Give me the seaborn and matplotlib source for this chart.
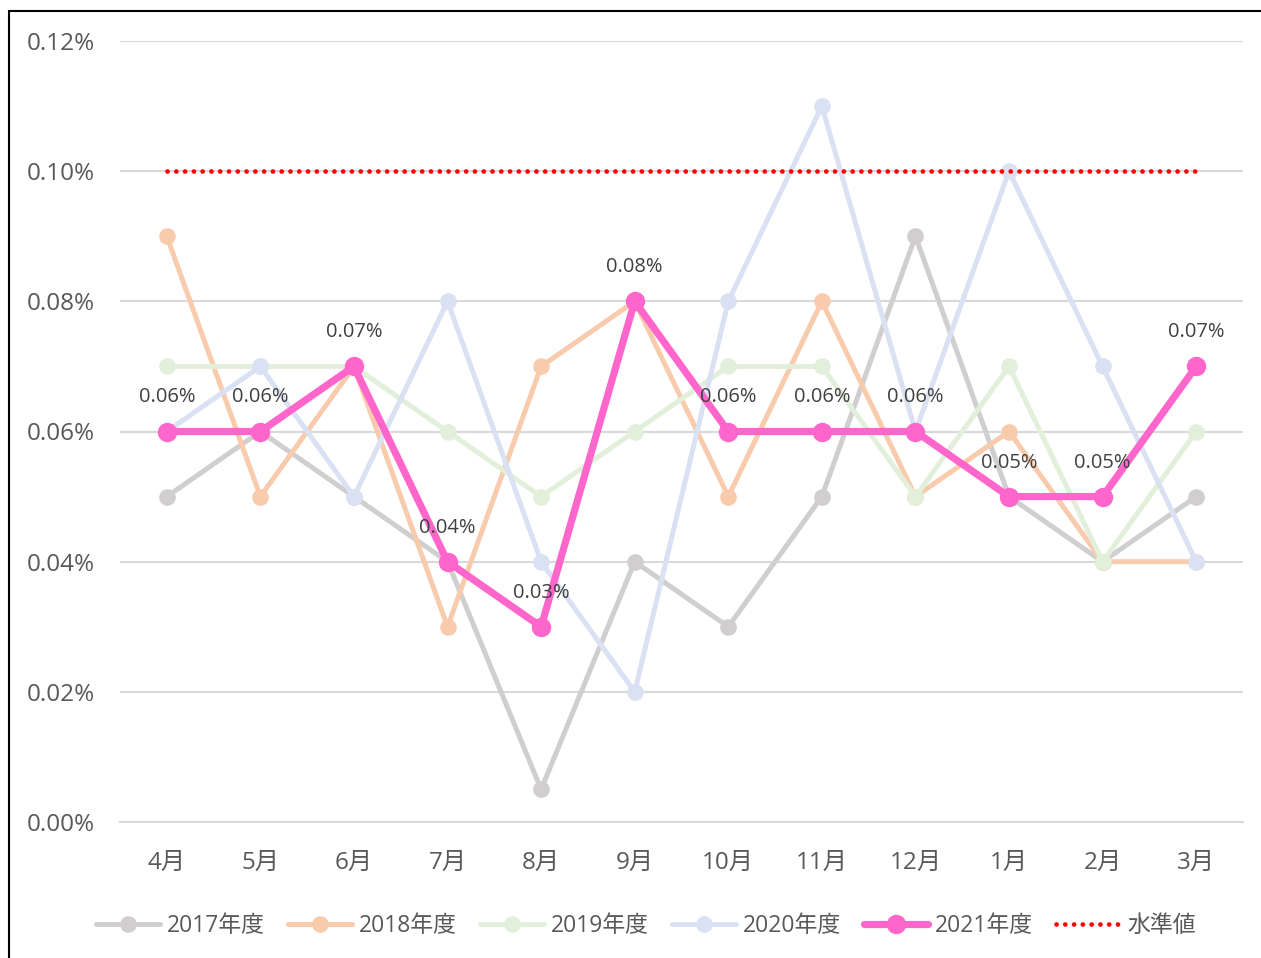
import matplotlib

matplotlib.use("Agg")

import matplotlib.pyplot as plt
import pandas as pd
import seaborn as sns
from matplotlib.patches import Rectangle
from matplotlib.ticker import FuncFormatter

months = ["4月", "5月", "6月", "7月", "8月", "9月", "10月", "11月", "12月", "1月", "2月", "3月"]

# values in percent
y2017 = [0.05, 0.06, 0.05, 0.04, 0.005, 0.04, 0.03, 0.05, 0.09, 0.05, 0.04, 0.05]
y2018 = [0.09, 0.05, 0.07, 0.03, 0.07, 0.08, 0.05, 0.08, 0.05, 0.06, 0.04, 0.04]
y2019 = [0.07, 0.07, 0.07, 0.06, 0.05, 0.06, 0.07, 0.07, 0.05, 0.07, 0.04, 0.06]
y2020 = [0.06, 0.07, 0.05, 0.08, 0.04, 0.02, 0.08, 0.11, 0.06, 0.10, 0.07, 0.04]
y2021 = [0.06, 0.06, 0.07, 0.04, 0.03, 0.08, 0.06, 0.06, 0.06, 0.05, 0.05, 0.07]
standard = [0.10] * 12

series_names = ["2017年度", "2018年度", "2019年度", "2020年度", "2021年度"]
series_values = [y2017, y2018, y2019, y2020, y2021]
colors = ["#D0CECE", "#F8CBAD", "#E2EFDA", "#D9E1F2", "#FF66CC"]

sns.set_theme(style="white")
plt.rcParams["font.family"] = ["Open Sans", "Noto Sans CJK JP", "DejaVu Sans"]

fig = plt.figure(figsize=(12.61, 9.58), dpi=100)
ax = fig.add_axes([120 / 1261, 1 - 822 / 958, (1243 - 120) / 1261, (822 - 41) / 958])

x = list(range(len(months)))
for name, vals, color in zip(series_names, series_values, colors):
    df = pd.DataFrame({"x": x, "y": vals})
    is_main = name == "2021年度"
    sns.lineplot(
        data=df, x="x", y="y", ax=ax, color=color, label=name,
        linewidth=5.2 if is_main else 3.6, marker="o",
        markersize=14 if is_main else 12, markeredgewidth=0,
        solid_capstyle="round", zorder=3 if is_main else 2,
    )

std_df = pd.DataFrame({"x": x, "y": standard})
sns.lineplot(
    data=std_df, x="x", y="y", ax=ax, color="#FF0000", label="水準値",
    linewidth=3.4, dashes=False, zorder=4,
)
std_line = ax.lines[-1]
std_line.set_dashes((0.01, 1.85))
std_line.set_dash_capstyle("round")

# data labels on the 2021 series
for xi, v in zip(x, y2021):
    ax.annotate(f"{v:.2f}%", (xi, v), xytext=(0, 24.5), textcoords="offset points",
                ha="center", va="center", fontsize=14.5, color="#404040", zorder=5)

ax.set_xlim(-0.5, len(months) - 0.5)
ax.set_ylim(0, 0.12)
ax.set_yticks([0, 0.02, 0.04, 0.06, 0.08, 0.10, 0.12])
ax.yaxis.set_major_formatter(FuncFormatter(lambda v, _: f"{v:.2f}%"))
ax.set_xticks(x)
ax.set_xticklabels(months)
ax.set_xlabel("")
ax.set_ylabel("")
ax.grid(axis="y", color="#D9D9D9", linewidth=1.5)
ax.set_axisbelow(True)
for side in ["top", "right", "left"]:
    ax.spines[side].set_visible(False)
ax.spines["bottom"].set_color("#D9D9D9")
ax.spines["bottom"].set_linewidth(1.5)
ax.tick_params(axis="y", labelsize=17.5, labelcolor="#595959", length=0, pad=18)
ax.tick_params(axis="x", labelsize=17.5, labelcolor="#595959", length=0, pad=21)

handles, labels = ax.get_legend_handles_labels()
ax.legend_.remove()
fig.legend(handles, labels, loc="center", bbox_to_anchor=(0.512, 1 - 926 / 958), ncol=6,
           frameon=False, fontsize=16.5, handlelength=2.8, columnspacing=1.0,
           handletextpad=0.3, labelcolor="#595959")

fig.patches.append(Rectangle((9 / 1261, -0.05), 1.1, 1 - 11 / 958 + 0.05, transform=fig.transFigure,
                             fill=False, edgecolor="black", linewidth=1.5))

fig.savefig("out.png", dpi=100)
